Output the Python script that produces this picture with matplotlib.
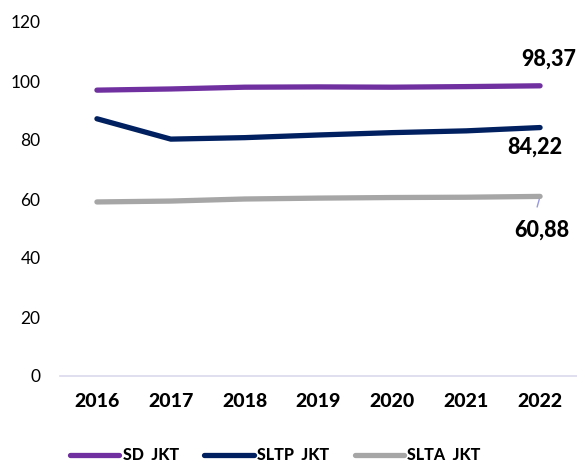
"""Enrolment rate lines for Jakarta by school level, 2016-2022."""

import matplotlib

matplotlib.use("Agg")
import matplotlib.pyplot as plt

plt.rcParams["font.family"] = ["Lato", "DejaVu Sans"]

YEARS = ["2016", "2017", "2018", "2019", "2020", "2021", "2022"]
SD_JKT = [96.9, 97.3, 97.9, 98.0, 97.9, 98.1, 98.37]
SLTP_JKT = [87.2, 80.3, 80.8, 81.7, 82.5, 83.1, 84.22]
SLTA_JKT = [59.0, 59.3, 60.0, 60.3, 60.5, 60.6, 60.88]
SERIES_NAMES = ["SD  JKT", "SLTP  JKT", "SLTA  JKT"]
COLORS = ["#7030A0", "#002060", "#A6A6A6"]


def main() -> None:
    fig = plt.figure(figsize=(5.77, 4.66), dpi=100)
    ax = fig.add_axes([60 / 577, 90 / 466, 517 / 577, 354 / 466])

    x = list(range(len(YEARS)))
    for values, name, color in zip((SD_JKT, SLTP_JKT, SLTA_JKT), SERIES_NAMES, COLORS):
        ax.plot(x, values, color=color, linewidth=3.8, solid_capstyle="round", label=name)

    last = x[-1]
    fmt = lambda v: f"{v:.2f}".replace(".", ",")
    label_style = dict(textcoords="offset points", ha="center", va="center",
                       fontsize=15.5, fontweight="black", annotation_clip=False)
    ax.annotate(fmt(SD_JKT[-1]), (last, SD_JKT[-1]), xytext=(6, 19), **label_style)
    ax.annotate(fmt(SLTP_JKT[-1]), (last, SLTP_JKT[-1]), xytext=(-4, -14), **label_style)
    ax.annotate(fmt(SLTA_JKT[-1]), (last, SLTA_JKT[-1]), xytext=(1, -24), **label_style)
    ax.annotate("", (last, SLTA_JKT[-1]), xytext=(last - 0.05, SLTA_JKT[-1] - 4.5),
                arrowprops=dict(arrowstyle="-", color="#9999DD", linewidth=1))

    ax.set_xlim(-0.5, len(YEARS) - 0.5)
    ax.set_ylim(0, 120)
    ax.set_yticks(range(0, 121, 20))
    ax.set_xticks(x)
    ax.set_xticklabels(YEARS, fontsize=14, fontweight="black")
    ax.tick_params(axis="y", labelsize=12.5, length=0, pad=14)
    ax.tick_params(axis="x", length=0, pad=12)

    for side in ("top", "right", "left"):
        ax.spines[side].set_visible(False)
    ax.spines["bottom"].set_color("#D9D9EE")
    ax.spines["bottom"].set_linewidth(1.2)

    fig.legend(loc="lower center", bbox_to_anchor=(0.477, -0.025), ncol=3, frameon=False,
               prop={"size": 11.5, "weight": "black"}, handlelength=3.1, handletextpad=0.2,
               columnspacing=1.6)

    fig.savefig("out.png", dpi=100)


if __name__ == "__main__":
    main()
